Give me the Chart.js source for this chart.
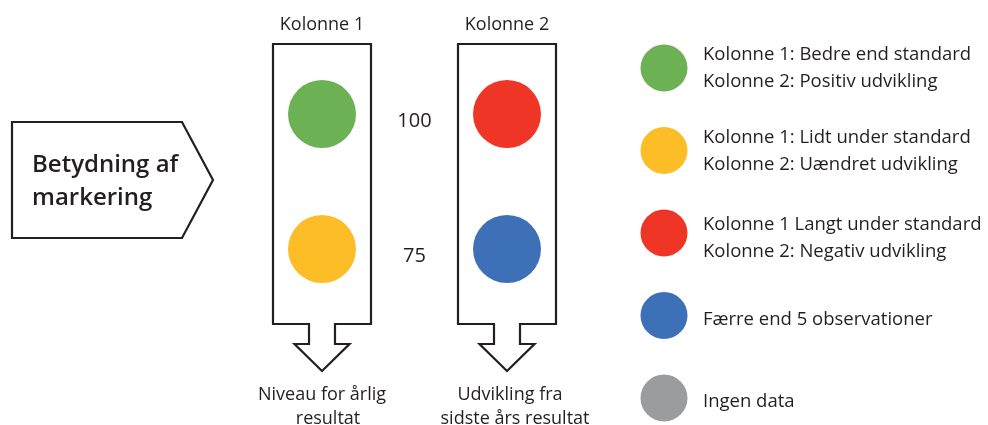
<!DOCTYPE html>
<html>
<head>
<meta charset="utf-8">
<script src="https://cdn.jsdelivr.net/npm/chart.js@4"></script>
<style>
  html, body { margin: 0; padding: 0; background: #ffffff; }
  #wrap { width: 988px; height: 425px; }
</style>
</head>
<body>
<div id="wrap"><canvas id="c" width="988" height="425"></canvas></div>
<script>
// ---------- data ----------
const categories = ['Kolonne 1', 'Kolonne 2'];
const levelTicks = [100, 75];
const seriesTop = [100, 100];
const seriesBottom = [75, 75];
const topColors = ['#6cb154', '#ee3526'];
const bottomColors = ['#fdbd27', '#3e70b7'];
const columnCaptions = [['Niveau for årlig', 'resultat'], ['Udvikling fra', 'sidste års resultat']];
const sideLabel = ['Betydning af', 'markering'];
const legendLabels = [
  ['Kolonne 1: Bedre end standard', 'Kolonne 2: Positiv udvikling'],
  ['Kolonne 1: Lidt under standard', 'Kolonne 2: Uændret udvikling'],
  ['Kolonne 1 Langt under standard', 'Kolonne 2: Negativ udvikling'],
  ['Færre end 5 observationer'],
  ['Ingen data']
];
const legendColors = ['#6cb154', '#fdbd27', '#ee3526', '#3e70b7', '#9a9c9d'];

// ---------- styling ----------
const INK = '#231f20';
const FONT = '"Open Sans", sans-serif';

const decor = {
  id: 'decor',
  beforeDatasetsDraw(chart) {
    const ctx = chart.ctx;
    const xs = chart.scales.x, ys = chart.scales.y;
    ctx.save();
    ctx.strokeStyle = INK;
    ctx.lineWidth = 2.2;
    ctx.lineJoin = 'miter';
    // side pentagon
    ctx.beginPath();
    ctx.moveTo(12, 122); ctx.lineTo(182, 122); ctx.lineTo(213, 180);
    ctx.lineTo(182, 238); ctx.lineTo(12, 238); ctx.closePath();
    ctx.stroke();
    // column boxes with arrows
    const top = ys.getPixelForValue(levelTicks[0]) - 70;
    const bot = ys.getPixelForValue(levelTicks[1]) + 75;
    categories.forEach((c, i) => {
      const cx = Math.round(xs.getPixelForValue(i));
      const L = cx - 49, R = cx + 49;
      ctx.beginPath();
      ctx.moveTo(L, top); ctx.lineTo(R, top); ctx.lineTo(R, bot);
      ctx.lineTo(cx + 13, bot); ctx.lineTo(cx + 13, bot + 20);
      ctx.lineTo(cx + 27.5, bot + 20); ctx.lineTo(cx, bot + 47);
      ctx.lineTo(cx - 27.5, bot + 20); ctx.lineTo(cx - 13, bot + 20);
      ctx.lineTo(cx - 13, bot); ctx.lineTo(L, bot); ctx.closePath();
      ctx.stroke();
    });
    ctx.restore();
  },
  afterDatasetsDraw(chart) {
    const ctx = chart.ctx;
    const xs = chart.scales.x, ys = chart.scales.y;
    ctx.save();
    ctx.fillStyle = INK;
    // side label
    ctx.font = '600 24px ' + FONT;
    ctx.textAlign = 'left';
    ctx.textBaseline = 'alphabetic';
    ctx.fillText(sideLabel[0], 32, 172);
    ctx.fillText(sideLabel[1], 32, 205);
    // column titles & captions
    ctx.font = '18px ' + FONT;
    ctx.textAlign = 'center';
    categories.forEach((c, i) => {
      const cx = xs.getPixelForValue(i);
      ctx.fillText(c, cx, 30);
      const cap = columnCaptions[i];
      ctx.fillText(cap[0], cx + (i ? 3 : 0), 400);
      ctx.fillText(cap[1], cx + (i ? 8 : 6), 424);
    });
    // level tick labels between columns
    const mid = (xs.getPixelForValue(0) + xs.getPixelForValue(1)) / 2;
    ctx.font = '20px ' + FONT;
    levelTicks.forEach(v => {
      ctx.fillText(String(v), mid, ys.getPixelForValue(v) + 13);
    });
    // legend
    ctx.textAlign = 'left';
    ctx.font = '18.5px ' + FONT;
    legendLabels.forEach((lines, i) => {
      const cy = 68 + i * 82.5;
      ctx.fillStyle = legendColors[i];
      ctx.beginPath();
      ctx.arc(664, cy, 23.5, 0, Math.PI * 2);
      ctx.fill();
      ctx.fillStyle = INK;
      if (lines.length === 2) {
        ctx.fillText(lines[0], 703, cy - 8 + (i === 2 ? 5 : 0));
        ctx.fillText(lines[1], 703, cy + 19 + (i === 2 ? 5 : 0));
      } else {
        ctx.fillText(lines[0], 703, cy + 9);
      }
    });
    ctx.restore();
  }
};

new Chart(document.getElementById('c'), {
  type: 'line',
  data: {
    labels: categories,
    datasets: [
      { label: String(levelTicks[0]), data: seriesTop, showLine: false,
        pointRadius: 34, pointHoverRadius: 34, pointBorderWidth: 0,
        pointBackgroundColor: topColors, pointBorderColor: topColors },
      { label: String(levelTicks[1]), data: seriesBottom, showLine: false,
        pointRadius: 34, pointHoverRadius: 34, pointBorderWidth: 0,
        pointBackgroundColor: bottomColors, pointBorderColor: bottomColors }
    ]
  },
  options: {
    responsive: false,
    devicePixelRatio: 1,
    animation: false,
    events: [],
    layout: { autoPadding: false, padding: { left: 229.5, right: 388.5, top: 6, bottom: 68 } },
    plugins: { legend: { display: false }, tooltip: { enabled: false } },
    scales: {
      x: { type: 'category', offset: true, display: false },
      y: { min: 55, max: 120, display: false }
    }
  },
  plugins: [decor]
});
</script>
</body>
</html>
